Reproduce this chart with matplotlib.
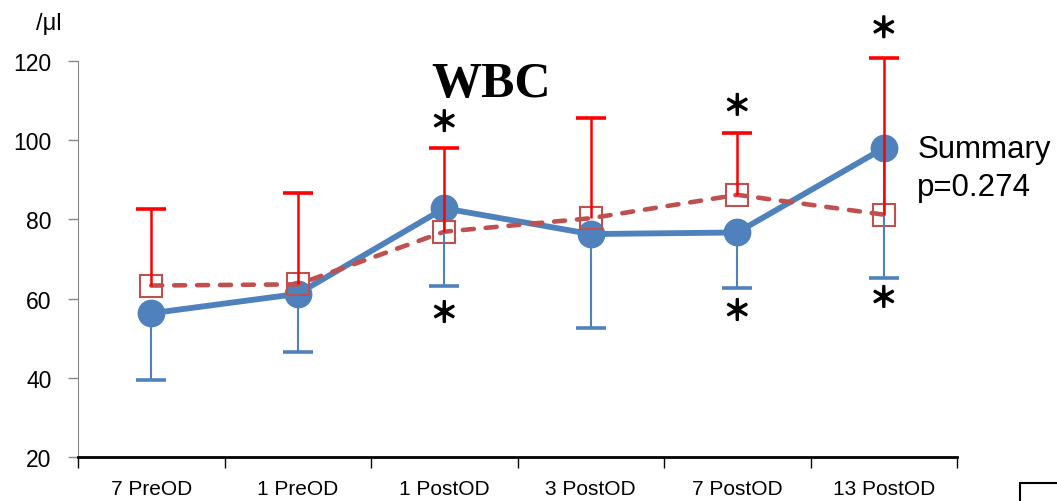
import numpy as np
import matplotlib
matplotlib.use("Agg")
import matplotlib.pyplot as plt
import matplotlib.patheffects as pe
from matplotlib.patches import Rectangle

# WBC counts per time point
days = ["7 PreOD", "1 PreOD", "1 PostOD", "3 PostOD", "7 PostOD", "13 PostOD"]
blue_mean = [56.3, 61.2, 82.8, 76.3, 76.7, 98.0]
blue_low = [39.5, 46.6, 63.1, 52.7, 62.8, 65.1]
red_mean = [63.3, 63.6, 76.9, 80.3, 86.2, 81.2]
red_high = [82.6, 86.7, 98.0, 105.5, 101.8, 120.7]
star_top = [(2, 104.3), (4, 108.4), (5, 128.0)]
star_bottom = [(2, 56.1), (4, 56.6), (5, 59.9)]

blue = "#4F81BD"
red = "#C0504D"

x = np.arange(len(days))

fig = plt.figure(figsize=(10.57, 5.02), dpi=100)
ax = fig.add_axes([0.0738, 0.0876, 0.8316, 0.7889])

ax.plot(x, blue_mean, color=blue, lw=4.2, marker="o", ms=19, zorder=3)
ax.plot(x, red_mean, color=red, lw=3.3, ls=(0, (2.4, 2.6)), dash_capstyle="round",
        marker="s", ms=15.5, mfc="none", mec=red, mew=1.5, zorder=4)

# one-sided error bars: blue downwards, red upwards
ax.vlines(x, blue_low, blue_mean, color=blue, lw=1.5, zorder=5)
ax.plot(x, blue_low, ls="none", marker="_", ms=22, mew=2.6, color=blue, zorder=5)
ax.vlines(x, red_mean, red_high, color="#FF0000", lw=1.8, zorder=6, clip_on=False)
ax.plot(x, red_high, ls="none", marker="_", ms=22, mew=2.6, color="#FF0000",
        zorder=6, clip_on=False)

for xs, ys in star_top + star_bottom:
    ax.text(xs, ys, "＊", ha="center", va="center", fontsize=20,
            family=["Noto Sans CJK JP", "DejaVu Sans"], clip_on=False,
            path_effects=[pe.withStroke(linewidth=1.3, foreground="black")])

ax.set_xlim(-0.5, 5.5)
ax.set_ylim(20, 120)
ax.set_yticks(np.arange(20, 121, 20))
ax.set_xticks(np.arange(-0.5, 6, 1))
ax.set_xticklabels([])
ax.set_xticks(x, minor=True)
ax.set_xticklabels(days, minor=True)
ax.tick_params(axis="x", which="minor", length=0, pad=16, labelsize=15)
ax.tick_params(axis="x", which="major", length=8, width=1, color="black", direction="out")
ax.tick_params(axis="y", length=7, width=1, color="#888888", labelsize=16.5, pad=12)
for lab in ax.get_xticklabels(minor=True) + ax.get_yticklabels():
    lab.set_family("Liberation Sans")

for side in ["top", "right"]:
    ax.spines[side].set_visible(False)
ax.spines["left"].set_color("#888888")
ax.spines["bottom"].set_color("black")
ax.spines["bottom"].set_linewidth(2)

ax.text(2.32, 114.2, "WBC", ha="center", va="center", fontsize=36,
        fontweight="bold", family="Liberation Serif")
ax.text(5.23, 97.8, "Summary", ha="left", va="center", fontsize=22.5,
        family="Liberation Sans", clip_on=False)
ax.text(5.23, 88.2, "p=0.274", ha="left", va="center", fontsize=22.5,
        family="Liberation Sans", clip_on=False)
fig.text(0.034, 0.953, "/μl", ha="left", va="center", fontsize=17, family="Liberation Sans")

# partly visible frame in the lower right corner
fig.patches.append(Rectangle((1020 / 1057, -0.05), 0.1, 0.085, transform=fig.transFigure,
                             fill=False, ec="black", lw=1.5))

fig.savefig("out.png", dpi=100)
